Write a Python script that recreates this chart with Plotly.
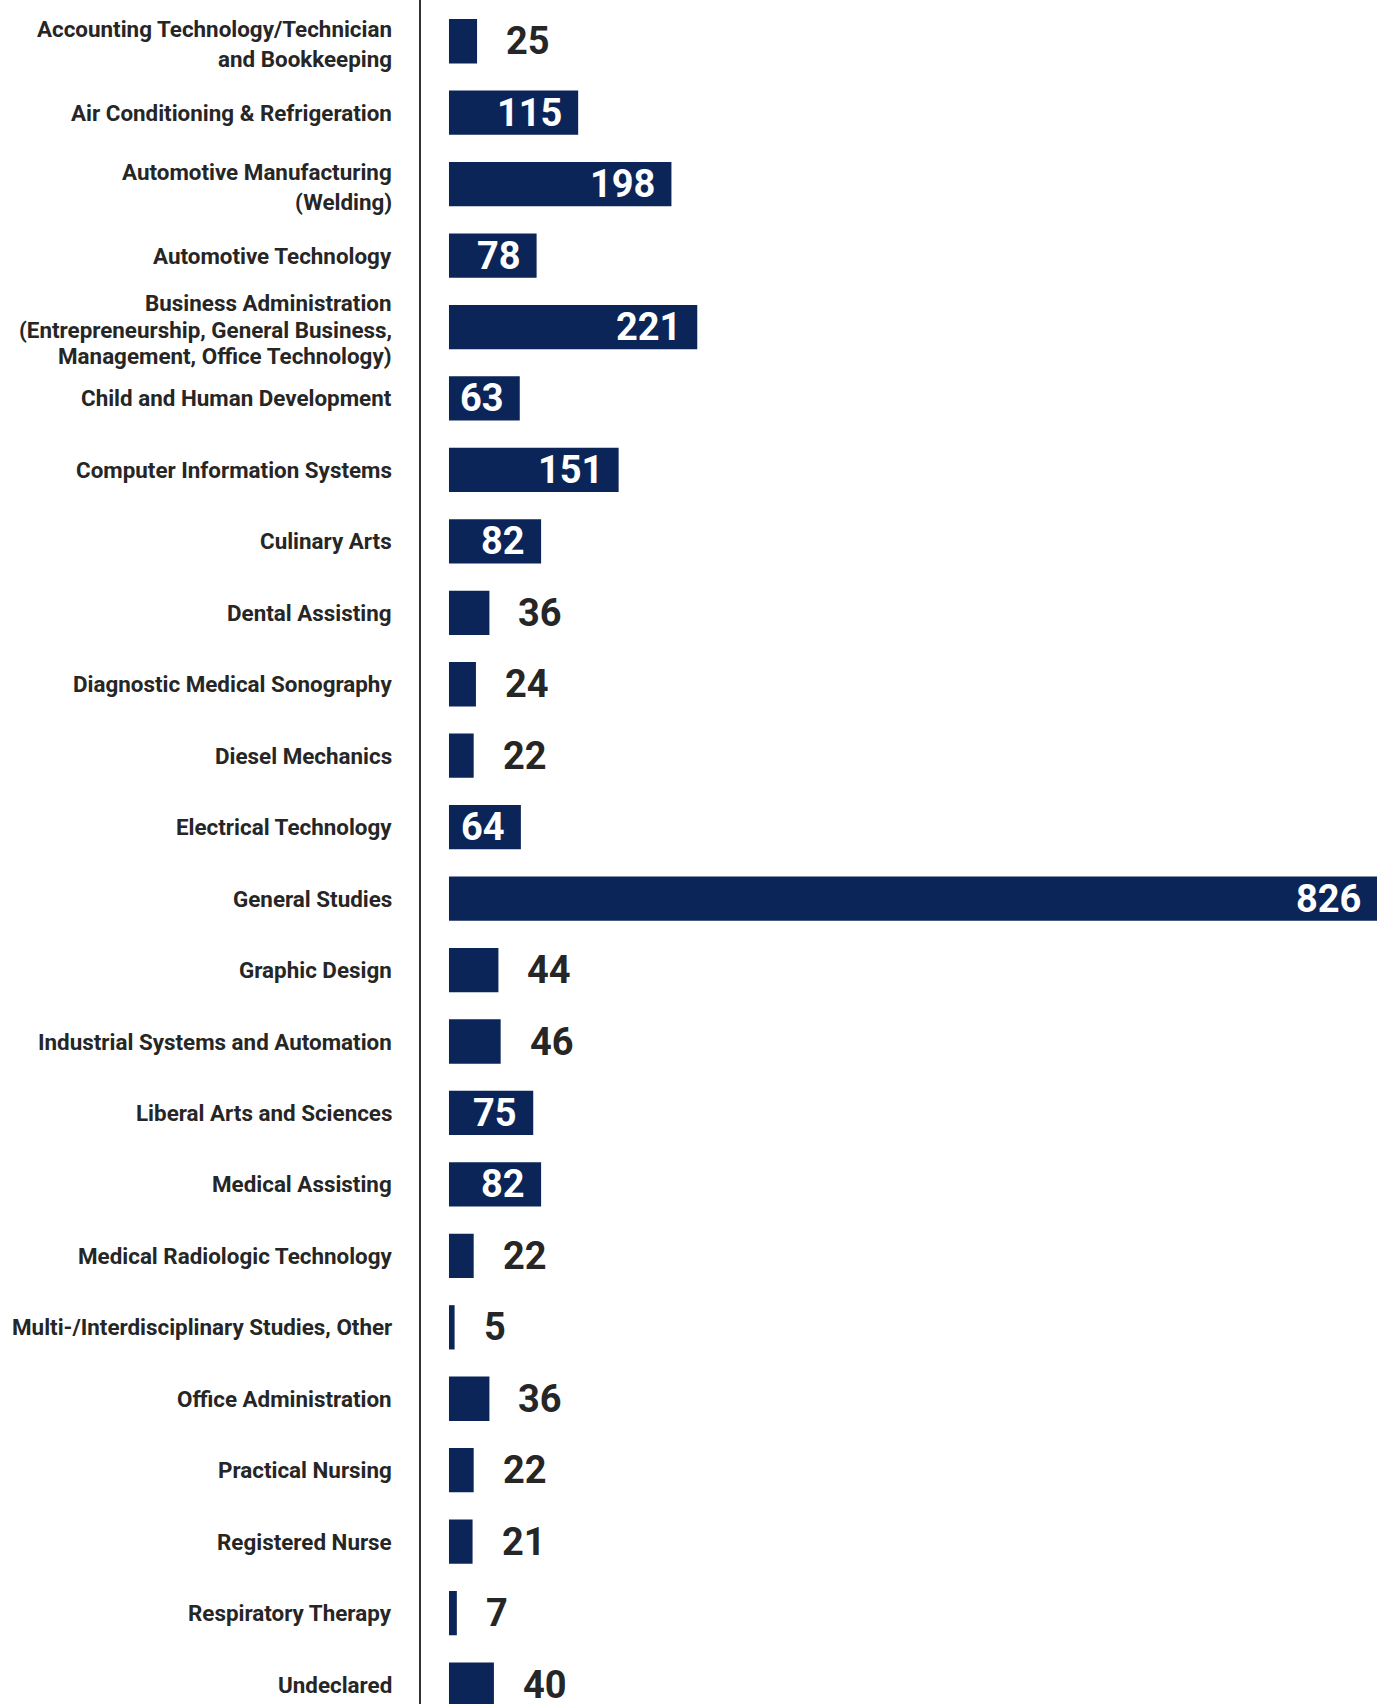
import plotly.graph_objects as go

# ---- data ----
programs = [
    "Accounting Technology/Technician\nand Bookkeeping",
    "Air Conditioning & Refrigeration",
    "Automotive Manufacturing\n(Welding)",
    "Automotive Technology",
    "Business Administration\n(Entrepreneurship, General Business,\nManagement, Office Technology)",
    "Child and Human Development",
    "Computer Information Systems",
    "Culinary Arts",
    "Dental Assisting",
    "Diagnostic Medical Sonography",
    "Diesel Mechanics",
    "Electrical Technology",
    "General Studies",
    "Graphic Design",
    "Industrial Systems and Automation",
    "Liberal Arts and Sciences",
    "Medical Assisting",
    "Medical Radiologic Technology",
    "Multi-/Interdisciplinary Studies, Other",
    "Office Administration",
    "Practical Nursing",
    "Registered Nurse",
    "Respiratory Therapy",
    "Undeclared",
]
enrollment = [25, 115, 198, 78, 221, 63, 151, 82, 36, 24, 22, 64, 826,
              44, 46, 75, 82, 22, 5, 36, 22, 21, 7, 40]

# ---- style ----
BAR_COLOR = "#0b2559"
TEXT_DARK = "#262626"
FONT = "Roboto, 'DejaVu Sans Condensed', sans-serif"
LABEL_SIZE = 22.4
VALUE_SIZE = 38
INSIDE_MIN = 60

cats = [p.replace("\n", " ") for p in programs]

fig = go.Figure()
fig.add_trace(go.Bar(
    y=cats, x=enrollment, orientation="h",
    marker=dict(color=BAR_COLOR, line=dict(width=0)),
    hoverinfo="skip",
))

def esc(s):
    return s.replace("&", "&amp;")

annotations = []
for cat, prog in zip(cats, programs):
    lines = prog.split("\n")
    n = len(lines)
    spacing = 30 if n <= 2 else 26.5
    base = 0 if n == 1 else -2.5
    for k, line in enumerate(lines):
        annotations.append(dict(
            x=0, xref="paper", y=cat, yref="y",
            text=esc(line), showarrow=False,
            xanchor="right", yanchor="middle",
            xshift=-27, yshift=base + ((n - 1) / 2 - k) * spacing,
            font=dict(family=FONT, size=LABEL_SIZE, color=TEXT_DARK, weight="bold"),
        ))

for cat, v in zip(cats, enrollment):
    inside = v >= INSIDE_MIN
    annotations.append(dict(
        x=v, xref="x", y=cat, yref="y",
        text=str(v), showarrow=False,
        xanchor="right" if inside else "left", yanchor="middle",
        xshift=-14 if inside else 27, yshift=0,
        font=dict(family=FONT, size=VALUE_SIZE,
                  color="white" if inside else TEXT_DARK, weight="bold"),
    ))

fig.update_layout(
    width=1377, height=1704,
    margin=dict(l=421, r=0, t=0, b=0, pad=0),
    paper_bgcolor="white", plot_bgcolor="white",
    bargap=0.38,
    showlegend=False,
    annotations=annotations,
    xaxis=dict(range=[-24.9, 826], visible=False, showgrid=False, zeroline=False),
    yaxis=dict(type="category", categoryorder="array", categoryarray=cats,
               range=[23.272, -0.577], showticklabels=False, showgrid=False,
               zeroline=False, showline=True, linecolor="#333333", linewidth=2,
               ticks=""),
)

fig.write_html("out.html",
               config={"displayModeBar": False},
               post_script="document.body.style.margin='0px';document.body.style.overflow='hidden';")
